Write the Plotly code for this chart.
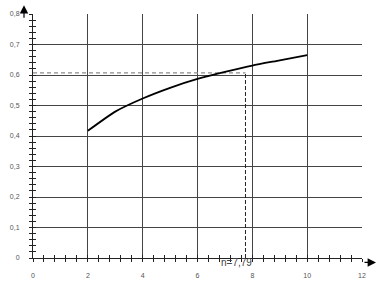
import plotly.graph_objects as go

# data
x_vals = [2, 3, 4, 5, 6, 7, 8, 9, 10]
y_vals = [0.417, 0.48, 0.523, 0.558, 0.587, 0.61, 0.631, 0.648, 0.665]
n_pos = 7.75          # position of the vertical dashed marker
n_label = "n=7,79"
h_level = 0.607       # horizontal dashed level
x_range = [0, 12]
y_range = [0, 0.8]
x_tickvals = [0, 2, 4, 6, 8, 10, 12]
x_ticktext = ["0", "2", "4", "6", "8", "10", "12"]
y_tickvals = [0, 0.1, 0.2, 0.3, 0.4, 0.5, 0.6, 0.7, 0.8]
y_ticktext = ["0", "0,1", "0,2", "0,3", "0,4", "0,5", "0,6", "0,7", "0,8"]

W, H = 381, 291
ML, MR, MT, MB = 33, 19, 10, 33
PW, PH = W - ML - MR, H - MT - MB

fig = go.Figure()

# horizontal dashed line (gray)
fig.add_trace(go.Scatter(x=[0, n_pos], y=[h_level, h_level], mode="lines",
                         line=dict(color="#8c8c8c", width=1.3, dash="4px,3px"),
                         showlegend=False, hoverinfo="skip"))
# vertical dashed line (black)
fig.add_trace(go.Scatter(x=[n_pos, n_pos], y=[0, h_level], mode="lines",
                         line=dict(color="#222222", width=1, dash="4px,2px"),
                         showlegend=False, hoverinfo="skip"))
# main curve
fig.add_trace(go.Scatter(x=x_vals, y=y_vals, mode="lines",
                         line=dict(color="#000000", width=1.8, shape="spline", smoothing=0.6),
                         showlegend=False))
# empty trace to activate overlay axes (inner halves of crossing ticks)
fig.add_trace(go.Scatter(x=[], y=[], xaxis="x2", yaxis="y2", showlegend=False))

grid_color = "#444444"
tick_font = dict(family="Liberation Sans, Arial, sans-serif", size=7, color="#555555")

fig.update_layout(
    width=W, height=H,
    margin=dict(l=ML, r=MR, t=MT, b=MB, pad=0),
    paper_bgcolor="white", plot_bgcolor="white",
    xaxis=dict(range=x_range, tickvals=x_tickvals, ticktext=x_ticktext,
               showgrid=True, gridcolor=grid_color, gridwidth=1,
               zeroline=False, showline=True, linecolor="#222222", linewidth=1,
               ticks="outside", ticklen=3, tickcolor="#222222", tickwidth=1,
               minor=dict(dtick=0.4, tick0=0, ticks="outside", ticklen=3,
                          tickcolor="#222222", showgrid=False),
               tickfont=tick_font, ticklabelstandoff=8, fixedrange=True),
    yaxis=dict(range=y_range, tickvals=y_tickvals, ticktext=y_ticktext,
               showgrid=True, gridcolor=grid_color, gridwidth=1,
               zeroline=False, showline=True, linecolor="#222222", linewidth=1,
               ticks="outside", ticklen=3, tickcolor="#222222", tickwidth=1,
               minor=dict(dtick=0.02, tick0=0, ticks="outside", ticklen=3,
                          tickcolor="#222222", showgrid=False),
               tickfont=tick_font, ticklabelstandoff=8, fixedrange=True),
    xaxis2=dict(range=x_range, overlaying="x", anchor="y2", side="bottom",
                tickvals=x_tickvals, showticklabels=False, showgrid=False,
                zeroline=False, showline=False,
                ticks="inside", ticklen=3, tickcolor="#222222",
                minor=dict(dtick=0.4, tick0=0, ticks="inside", ticklen=3,
                           tickcolor="#222222", showgrid=False)),
    yaxis2=dict(range=y_range, overlaying="y", anchor="x2", side="left",
                tickvals=y_tickvals, showticklabels=False, showgrid=False,
                zeroline=False, showline=False,
                ticks="inside", ticklen=3, tickcolor="#222222",
                minor=dict(dtick=0.02, tick0=0, ticks="inside", ticklen=3,
                           tickcolor="#222222", showgrid=False)),
)

def px_x(p):
    return (p - ML) / PW

def px_y(p):
    return (H - MB - p) / PH

# axis arrows
fig.add_annotation(xref="paper", yref="paper", x=px_x(24), y=px_y(1),
                   ax=0, ay=14, text="", showarrow=True,
                   arrowhead=2, arrowsize=1.4, arrowwidth=1.2, arrowcolor="#000000")
fig.add_annotation(xref="paper", yref="paper", x=px_x(376), y=px_y(262.5),
                   ax=-13, ay=0, text="", showarrow=True,
                   arrowhead=2, arrowsize=1.4, arrowwidth=1.2, arrowcolor="#000000")
# n label
fig.add_annotation(x=n_pos, y=0, xref="x", yref="y", text=n_label, showarrow=False,
                   xanchor="center", yanchor="middle", xshift=-9, yshift=-4,
                   font=dict(family="Liberation Sans, Arial, sans-serif", size=10, color="#444444"))

fig.write_html("out.html")
